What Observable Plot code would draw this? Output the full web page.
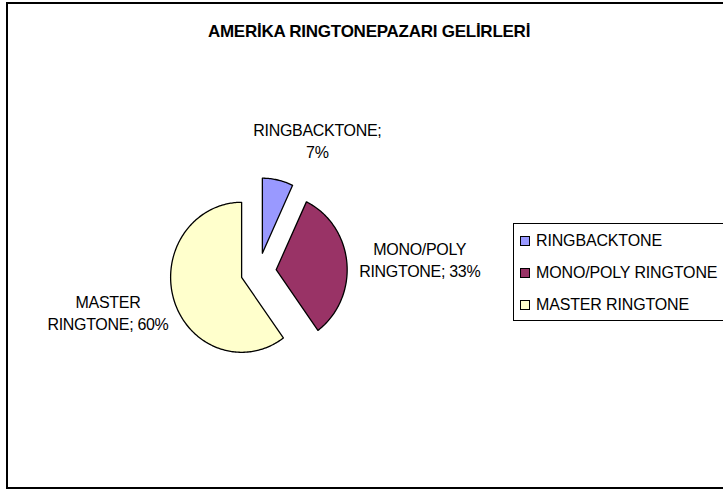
<!DOCTYPE html>
<html>
<head>
<meta charset="utf-8">
<script src="https://cdn.jsdelivr.net/npm/d3@7"></script>
<script src="https://cdn.jsdelivr.net/npm/@observablehq/plot@0.6"></script>
<style>
  html, body { margin: 0; padding: 0; background: #fff; }
  body { width: 723px; height: 490px; overflow: hidden; position: relative;
         font-family: "Liberation Sans", Arial, sans-serif; }
  #frame { position: absolute; left: 6px; top: 2px; width: 900px; height: 487px;
           box-sizing: border-box; border: 2px solid #000; }
  #title { position: absolute; left: 0; width: 738px; top: 23px; text-align: center;
           font-weight: bold; font-size: 17px; line-height: 17px; letter-spacing: -0.25px; color: #000; }
  #chart { position: absolute; left: 0; top: 0; }
  #legend { position: absolute; left: 513px; top: 223px; width: 300px; height: 98px;
            box-sizing: border-box; border: 1px solid #000; background: #fff; }
  .row { position: absolute; left: 6px; font-size: 16px; line-height: 16px; letter-spacing: -0.15px; white-space: nowrap; }
  .sw { display: inline-block; width: 8px; height: 8px; border: 1px solid #000; margin-right: 6px; vertical-align: 0px; }
</style>
</head>
<body>
<div id="frame"></div>
<div id="title"></div>
<div id="chart"></div>
<div id="legend"></div>
<script>
// ---- data ----
const title = "AMERİKA RINGTONEPAZARI GELİRLERİ";
const categories = ["RINGBACKTONE", "MONO/POLY RINGTONE", "MASTER RINGTONE"];
const shares = [7, 33, 60];
const colors = ["#9999FF", "#993366", "#FFFFCC"];

// ---- layout (pixels) ----
const W = 723, H = 490;
const cx = 258, cy = 271;      // pie centre in px
const rx = 71, ry = 75;        // px per radius unit
const explode = 0.25;          // in radius units
const labelDist = 1.55;
const labelShift = {"RINGBACKTONE": [31, 0], "MONO/POLY RINGTONE": [34, 0], "MASTER RINGTONE": [-29, -1]};

const total = d3.sum(shares);
const polys = [];
const labels = [];
let acc = 0;
categories.forEach((name, i) => {
  const a0 = acc / total * 2 * Math.PI;
  acc += shares[i];
  const a1 = acc / total * 2 * Math.PI;
  const mid = (a0 + a1) / 2;
  const dx = Math.sin(mid), dy = -Math.cos(mid);
  const ox = dx * explode, oy = dy * explode;
  polys.push({name, x: ox, y: oy});
  const steps = Math.max(4, Math.ceil((a1 - a0) / (Math.PI / 180)));
  for (let k = 0; k <= steps; k++) {
    const a = a0 + (a1 - a0) * k / steps;
    polys.push({name, x: ox + Math.sin(a), y: oy - Math.cos(a)});
  }
  polys.push({name, x: ox, y: oy});
  // label text with simple word wrap
  const words = (name + "; " + shares[i] + "%").split(" ");
  const lines = [];
  let cur = "";
  for (const w of words) {
    if (cur && (cur + " " + w).length > 13) { lines.push(cur); cur = w; }
    else cur = cur ? cur + " " + w : w;
  }
  lines.push(cur);
  const s = labelShift[name];
  labels.push({
    name,
    text: lines.join("\n"),
    x: ox + dx * labelDist + s[0] / rx,
    y: oy + dy * labelDist + s[1] / ry
  });
});

const chart = Plot.plot({
  width: W, height: H,
  marginTop: 0, marginRight: 0, marginBottom: 0, marginLeft: 0,
  x: {domain: [-cx / rx, (W - cx) / rx], range: [0, W], axis: null},
  y: {domain: [-cy / ry, (H - cy) / ry], range: [0, H], axis: null},
  color: {domain: categories, range: colors},
  style: {background: "transparent", fontFamily: "'Liberation Sans', Arial, sans-serif"},
  marks: [
    Plot.line(polys, {x: "x", y: "y", z: "name", fill: "name", stroke: "#000", strokeWidth: 1.3, curve: "linear", strokeLinejoin: "round"}),
    Plot.text(labels, {x: "x", y: "y", text: "text", fontSize: 16, lineHeight: 1.38, lineAnchor: "middle", textAnchor: "middle", fill: "#000"})
  ]
});
chart.querySelectorAll("text").forEach(t => t.style.letterSpacing = "-0.3px");
document.getElementById("chart").appendChild(chart);
document.getElementById("title").textContent = title;

const legend = document.getElementById("legend");
categories.forEach((name, i) => {
  const row = document.createElement("div");
  row.className = "row";
  row.style.top = (9 + i * 32) + "px";
  const sw = document.createElement("span");
  sw.className = "sw";
  sw.style.background = colors[i];
  row.appendChild(sw);
  row.appendChild(document.createTextNode(name));
  legend.appendChild(row);
});
</script>
</body>
</html>
